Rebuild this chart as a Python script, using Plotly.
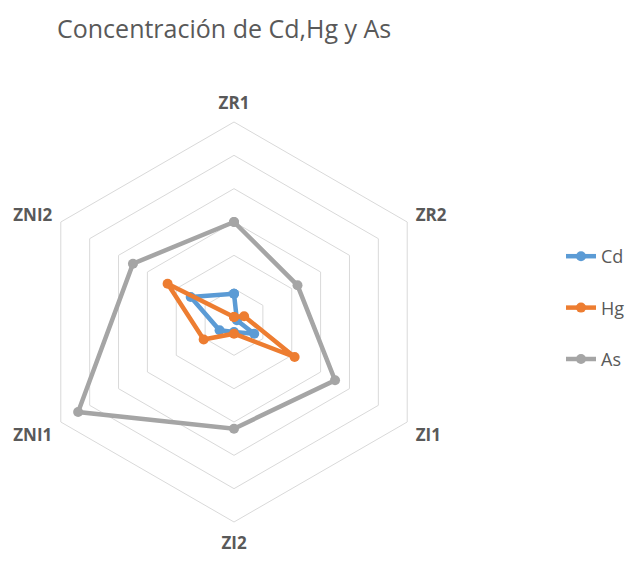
import plotly.graph_objects as go

categories = ["ZR1", "ZR2", "ZI1", "ZI2", "ZNI1", "ZNI2"]
cd_values = [0.85, 0.1, 0.7, 0.3, 0.5, 1.5]
hg_values = [0.15, 0.35, 2.1, 0.35, 1.05, 2.3]
as_values = [3.0, 2.2, 3.5, 3.2, 5.4, 3.5]

series = [
    ("Cd", cd_values, "#5B9BD5"),
    ("Hg", hg_values, "#ED7D31"),
    ("As", as_values, "#A5A5A5"),
]

fig = go.Figure()
for name, vals, color in series:
    fig.add_trace(go.Scatterpolar(
        r=vals + vals[:1],
        theta=categories + categories[:1],
        mode="lines+markers",
        name=name,
        legendgroup=name,
        line=dict(color=color, width=4.5),
        marker=dict(color=color, size=10),
    ))

W, H = 636, 566
OFF = 8  # page body margin offset
cx, cy, R = 234 - OFF, 322 - OFF, 200
fig.update_layout(
    width=W, height=H,
    margin=dict(l=0, r=0, t=0, b=0),
    paper_bgcolor="white",
    plot_bgcolor="white",
    font=dict(family="Open Sans, sans-serif", color="#595959"),
    title=dict(text="Concentración de Cd,Hg y As", x=(57 - OFF) / W, xanchor="left",
               y=1 - (29 - OFF) / H, yanchor="middle",
               font=dict(size=25, color="#595959")),
    polar=dict(
        domain=dict(x=[(cx - R) / W, (cx + R) / W], y=[(H - cy - R) / H, (H - cy + R) / H]),
        gridshape="linear",
        bgcolor="white",
        radialaxis=dict(range=[0, 6], dtick=1, showticklabels=False, ticks="",
                        showline=False, gridcolor="#D9D9D9", gridwidth=1),
        angularaxis=dict(rotation=90, direction="clockwise", showgrid=False,
                         showline=True, linecolor="#D9D9D9", linewidth=1,
                         ticks="outside", ticklen=6, tickcolor="rgba(0,0,0,0)",
                         tickfont=dict(size=17, color="#595959",
                                       family="Open Sans, sans-serif", weight="bold")),
    ),
    legend=dict(x=(561 - OFF) / W, y=1 - (238 - OFF) / H, xanchor="left", yanchor="top",
                font=dict(size=18, color="#595959"), tracegroupgap=25,
                bgcolor="rgba(0,0,0,0)"),
    showlegend=True,
)

fig.write_html("out.html")
